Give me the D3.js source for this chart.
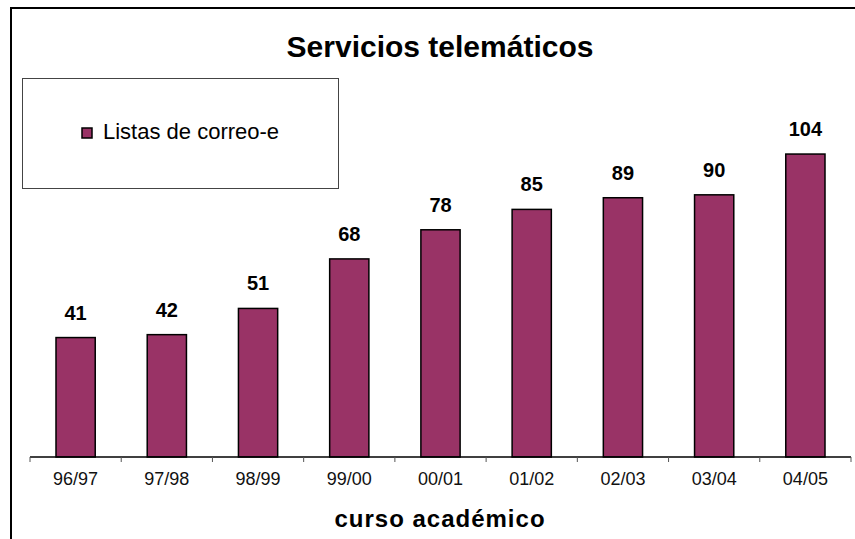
<!DOCTYPE html>
<html>
<head>
<meta charset="utf-8">
<script src="https://cdn.jsdelivr.net/npm/d3@7"></script>
<style>
body{margin:0;background:#fff;}
svg{display:block;font-family:"Liberation Sans",Arial,sans-serif;}
</style>
</head>
<body>
<svg id="chart" width="855" height="539"></svg>
<script>
var cursos = ["96/97","97/98","98/99","99/00","00/01","01/02","02/03","03/04","04/05"];
var listas = [41,42,51,68,78,85,89,90,104];
var serie = "Listas de correo-e";

var svg = d3.select("#chart");
var left = 30, right = 851, bottom = 457;

// marco exterior (se sale por la derecha y abajo)
svg.append("rect")
  .attr("x",11).attr("y",8).attr("width",900).attr("height",600)
  .attr("fill","none").attr("stroke","#000").attr("stroke-width",2);

var x = d3.scaleBand().domain(cursos).range([left,right])
  .paddingInner(0.57).paddingOuter(0.285);
var y = d3.scaleLinear().domain([0,120]).range([bottom, bottom-120*2.913]);

svg.append("text")
  .attr("x",440).attr("y",57).attr("text-anchor","middle")
  .attr("font-size",30).attr("font-weight","bold")
  .text("Servicios telemáticos");

// barras
svg.selectAll("rect.bar").data(listas).enter().append("rect")
  .attr("class","bar")
  .attr("x",function(d,i){return x(cursos[i]);})
  .attr("y",function(d){return y(d);})
  .attr("width",x.bandwidth())
  .attr("height",function(d){return bottom-y(d);})
  .attr("fill","#993366").attr("stroke","#000").attr("stroke-width",1.5);

svg.selectAll("text.val").data(listas).enter().append("text")
  .attr("class","val")
  .attr("x",function(d,i){return x(cursos[i])+x.bandwidth()/2;})
  .attr("y",function(d){return y(d)-18;})
  .attr("text-anchor","middle").attr("font-size",20).attr("font-weight","bold")
  .text(function(d){return d;});

// eje x
var ax = svg.append("g");
ax.append("line").attr("x1",left).attr("x2",right).attr("y1",bottom).attr("y2",bottom)
  .attr("stroke","#000").attr("stroke-width",1.5);
var bounds = cursos.map(function(c){return x(c)-x.step()*x.paddingOuter();});
bounds.push(right);
ax.selectAll("line.tick").data(bounds).enter().append("line")
  .attr("class","tick")
  .attr("x1",function(d){return d;}).attr("x2",function(d){return d;})
  .attr("y1",bottom).attr("y2",bottom+5)
  .attr("stroke","#555").attr("stroke-width",1);
ax.selectAll("text").data(cursos).enter().append("text")
  .attr("x",function(d){return x(d)+x.bandwidth()/2;})
  .attr("y",485).attr("text-anchor","middle").attr("font-size",18)
  .attr("fill","#111")
  .text(function(d){return d;});

svg.append("text")
  .attr("x",440).attr("y",527).attr("text-anchor","middle")
  .attr("font-size",24).attr("font-weight","bold").attr("letter-spacing",1)
  .text("curso académico");

// leyenda
var lg = svg.append("g");
lg.append("rect").attr("x",22.5).attr("y",78.5).attr("width",316).attr("height",110)
  .attr("fill","#fff").attr("stroke","#444").attr("stroke-width",1);
lg.append("rect").attr("x",82).attr("y",128).attr("width",10).attr("height",10)
  .attr("fill","#993366").attr("stroke","#000").attr("stroke-width",1.5);
lg.append("text").attr("x",103).attr("y",139).attr("font-size",22).text(serie);
</script>
</body>
</html>
